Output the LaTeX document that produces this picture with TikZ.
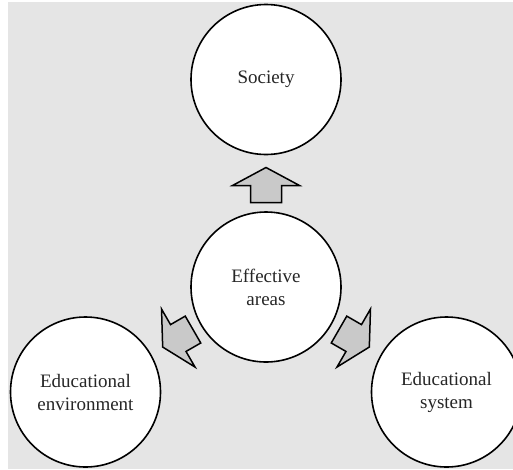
\documentclass[tikz,border=0pt]{standalone}
\usepackage{fontspec}
\setmainfont{Liberation Serif}
\usetikzlibrary{calc}
\definecolor{bggrey}{HTML}{E5E5E5}
\definecolor{arrowgrey}{HTML}{C9C9C9}
\definecolor{txt}{HTML}{262626}
\tikzset{
  circ/.style={circle, draw=black, line width=1.6pt, fill=white, minimum size=150pt,
    inner sep=0pt, align=center, text=txt, font=\fontsize{19}{23}\selectfont},
  arrowstyle/.style={draw=black, line width=1.5pt, fill=arrowgrey, line join=miter},
  blockarrow/.pic={\path[arrowstyle] (0,-17.5) -- (33.5,0.5) -- (15.5,0.5) -- (15.5,17.5)
    -- (-15.5,17.5) -- (-15.5,0.5) -- (-33.5,0.5) -- cycle;}
}
\begin{document}
\begin{tikzpicture}[x=1pt,y=-1pt]
\useasboundingbox (0,0) rectangle (513,469);
\fill[white] (0,0) rectangle (513,469);
\fill[bggrey] (8,2) rectangle (513,469);
\begin{scope}
\clip (0,0) rectangle (513,469);
\node[circ] (E) at (266,287) {Effective\\areas};
\node[circ] (S) at (266,79.5) {Society};
\node[circ] (L) at (85.5,392) {Educational\\environment};
\node[circ] (R) at (446.5,392) {Educational\\system};
\path ($(E.center)!102pt!(S.center)$) pic {blockarrow};
\path ($(E.center)!102pt!(L.center)$) pic[rotate=120] {blockarrow};
\path ($(E.center)!102pt!(R.center)$) pic[rotate=-120] {blockarrow};
\end{scope}
\end{tikzpicture}
\end{document}
